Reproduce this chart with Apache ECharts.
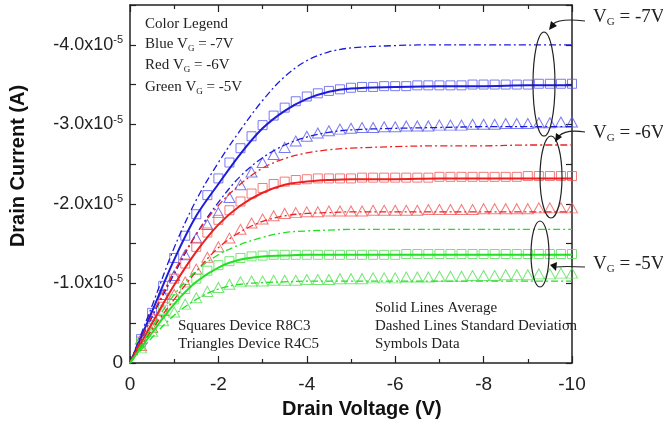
<!DOCTYPE html>
<html>
<head>
<meta charset="utf-8">
<script src="https://cdn.jsdelivr.net/npm/echarts/dist/echarts.min.js"></script>
<style>
  html, body { margin: 0; padding: 0; background: #fff; }
  #chart { width: 663px; height: 430px; }
</style>
</head>
<body>
<div id="chart"></div>
<script>
  // drain current values are in units of 1e-5 A
  const vLine = [0, -0.5, -1, -1.5, -2, -2.5, -3, -3.5, -4, -4.5, -5, -6, -7, -8, -9, -10];
  const blueAvg = [0, -0.65, -1.3, -1.85, -2.25, -2.63, -2.95, -3.17, -3.32, -3.41, -3.45, -3.47, -3.48, -3.48, -3.49, -3.49];
  const blueHi  = [0, -0.72, -1.45, -2.05, -2.52, -2.93, -3.3, -3.6, -3.8, -3.91, -3.96, -3.99, -4.0, -4.0, -4.0, -4.0];
  const blueLo  = [0, -0.58, -1.12, -1.62, -2.02, -2.35, -2.58, -2.74, -2.84, -2.9, -2.93, -2.95, -2.96, -2.97, -2.97, -2.97];
  const redHi   = [0, -0.6, -1.15, -1.62, -1.98, -2.25, -2.45, -2.57, -2.64, -2.68, -2.7, -2.72, -2.73, -2.73, -2.74, -2.74];
  const redAvg  = [0, -0.5, -0.98, -1.4, -1.74, -1.98, -2.14, -2.24, -2.28, -2.3, -2.31, -2.31, -2.32, -2.32, -2.32, -2.32];
  const redLo   = [0, -0.42, -0.8, -1.15, -1.45, -1.65, -1.78, -1.85, -1.88, -1.89, -1.9, -1.9, -1.9, -1.9, -1.9, -1.9];
  const greenHi  = [0, -0.45, -0.86, -1.16, -1.36, -1.49, -1.58, -1.64, -1.66, -1.67, -1.68, -1.68, -1.68, -1.68, -1.68, -1.68];
  const greenAvg = [0, -0.38, -0.74, -1.02, -1.2, -1.3, -1.34, -1.35, -1.36, -1.36, -1.36, -1.36, -1.36, -1.36, -1.36, -1.36];
  const greenLo  = [0, -0.32, -0.6, -0.8, -0.93, -0.99, -1.01, -1.02, -1.03, -1.03, -1.03, -1.03, -1.03, -1.03, -1.03, -1.03];

  const vData = [-0.25, -0.5, -0.75, -1, -1.25, -1.5, -1.75, -2, -2.25, -2.5, -2.75, -3, -3.25, -3.5, -3.75, -4,
    -4.25, -4.5, -4.75, -5, -5.25, -5.5, -5.75, -6, -6.25, -6.5, -6.75, -7, -7.25, -7.5, -7.75, -8,
    -8.25, -8.5, -8.75, -9, -9.25, -9.5, -9.75, -10];
  const blueSq = [-0.30, -0.63, -0.97, -1.32, -1.60, -1.87, -2.11, -2.32, -2.52, -2.70, -2.85, -2.99, -3.11, -3.21, -3.29, -3.35,
    -3.39, -3.42, -3.44, -3.46, -3.47, -3.47, -3.48, -3.48, -3.48, -3.49, -3.49, -3.49, -3.49, -3.49, -3.50, -3.50,
    -3.50, -3.50, -3.50, -3.50, -3.51, -3.51, -3.51, -3.51];
  const blueTri = [-0.30, -0.60, -0.86, -1.10, -1.36, -1.57, -1.74, -1.89, -2.08, -2.24, -2.40, -2.52, -2.62, -2.71, -2.79, -2.85,
    -2.89, -2.92, -2.94, -2.95, -2.96, -2.96, -2.97, -2.97, -2.98, -2.98, -2.98, -2.99, -2.99, -2.99, -3.00, -3.00,
    -3.00, -3.01, -3.01, -3.01, -3.02, -3.02, -3.03, -3.03];
  const redSq = [-0.27, -0.55, -0.82, -1.06, -1.25, -1.46, -1.64, -1.80, -1.92, -2.03, -2.13, -2.20, -2.25, -2.28, -2.30, -2.31,
    -2.32, -2.32, -2.32, -2.32, -2.33, -2.33, -2.33, -2.33, -2.33, -2.33, -2.33, -2.34, -2.34, -2.34, -2.34, -2.34,
    -2.34, -2.34, -2.34, -2.35, -2.35, -2.35, -2.35, -2.35];
  const redTri = [-0.22, -0.45, -0.66, -0.86, -1.02, -1.18, -1.33, -1.46, -1.57, -1.68, -1.76, -1.81, -1.85, -1.88, -1.89, -1.90,
    -1.90, -1.91, -1.91, -1.91, -1.91, -1.92, -1.92, -1.92, -1.92, -1.92, -1.93, -1.93, -1.93, -1.93, -1.93, -1.94,
    -1.94, -1.94, -1.94, -1.94, -1.95, -1.95, -1.95, -1.95];
  const greenSq = [-0.26, -0.47, -0.67, -0.80, -0.93, -1.06, -1.16, -1.23, -1.28, -1.32, -1.34, -1.35, -1.36, -1.36, -1.36, -1.36,
    -1.36, -1.36, -1.36, -1.36, -1.36, -1.36, -1.36, -1.36, -1.37, -1.37, -1.37, -1.37, -1.37, -1.37, -1.37, -1.37,
    -1.37, -1.37, -1.37, -1.37, -1.37, -1.37, -1.37, -1.37];
  const greenTri = [-0.19, -0.40, -0.53, -0.64, -0.74, -0.82, -0.90, -0.95, -0.99, -1.02, -1.03, -1.03, -1.04, -1.04, -1.04, -1.05,
    -1.05, -1.05, -1.06, -1.06, -1.06, -1.07, -1.07, -1.07, -1.08, -1.08, -1.08, -1.09, -1.09, -1.09, -1.10, -1.10,
    -1.10, -1.11, -1.11, -1.11, -1.12, -1.12, -1.13, -1.13];

  const BLUE = '#1c1cdc', RED = '#ee2020', GREEN = '#22e022';
  const BLUE_S = '#5a5aee', RED_S = '#f05a5a', GREEN_S = '#55e055';
  const dashDot = [7, 3, 2, 3];

  function pairs(xs, ys) {
    return xs.map((x, i) => [x, ys[i]]);
  }

  function line(name, ys, color, dashed) {
    return {
      name: name,
      type: 'line',
      data: pairs(vLine, ys),
      smooth: 0.35,
      showSymbol: false,
      symbol: 'none',
      silent: true,
      lineStyle: { color: color, width: dashed ? 1.3 : 2, type: dashed ? dashDot : 'solid' },
      z: 3
    };
  }

  function marks(name, ys, color, shape) {
    return {
      name: name,
      type: 'scatter',
      data: pairs(vData, ys),
      symbol: shape,
      symbolSize: shape === 'rect' ? 9 : [11, 10],
      itemStyle: { color: 'transparent', borderColor: color, borderWidth: 1 },
      z: 2
    };
  }

  const serif = 'Liberation Serif';
  const sans = 'Liberation Sans';

  function yLab(v) {
    if (Math.abs(v) < 1e-9) return '0';
    const r = Math.round(v * 2) / 2;
    if (r % 1 !== 0) return '';
    return '{n|' + r.toFixed(1) + 'x10}{sup|-5}';
  }

  function noteText(x, y, txt, size) {
    return {
      type: 'text', left: x, top: y, z: 100,
      style: {
        text: txt, fontFamily: serif, fontSize: size, fill: '#222',
        rich: { s: { fontSize: Math.round(size * 0.6), fontFamily: serif, fill: '#222', padding: [Math.round(size * 0.55), 0, 0, 0] } }
      }
    };
  }

  function ellipse(cx, cy, rx, ry) {
    return { type: 'ellipse', z: 100, shape: { cx: cx, cy: cy, rx: rx, ry: ry },
      style: { fill: 'none', stroke: '#222', lineWidth: 1.2 } };
  }

  function arrow(x1, y1, cx, cy, x2, y2, head) {
    return [
      { type: 'bezierCurve', z: 100, shape: { x1: x1, y1: y1, cpx1: cx, cpy1: cy, x2: x2, y2: y2 },
        style: { fill: 'none', stroke: '#222', lineWidth: 1.2 } },
      { type: 'polygon', z: 100, shape: { points: head }, style: { fill: '#111' } }
    ];
  }

  const baseX = {
    type: 'value', min: -10, max: 0, interval: 2, inverse: true,
    axisLine: { show: true, onZero: false, lineStyle: { color: '#222', width: 1.5 } },
    axisTick: { show: true, inside: true, length: 7, lineStyle: { color: '#222', width: 1.2 } },
    minorTick: { show: true, splitNumber: 2, length: 4, lineStyle: { color: '#222', width: 1.2 } },
    splitLine: { show: false }
  };
  const baseY = {
    type: 'value', min: -4.5, max: 0, interval: 0.5, inverse: true,
    axisLine: { show: true, onZero: false, lineStyle: { color: '#222', width: 1.5 } },
    axisTick: { show: true, inside: true, length: 6, lineStyle: { color: '#222', width: 1.2 } },
    splitLine: { show: false }
  };

  const chart = echarts.init(document.getElementById('chart'));
  chart.setOption({
    animation: false,
    backgroundColor: '#fff',
    grid: { left: 130, right: 91, top: 5, bottom: 67 },
    xAxis: [
      Object.assign({}, baseX, {
        position: 'bottom',
        axisLabel: { margin: 12, fontFamily: sans, fontSize: 19, color: '#222' }
      }),
      Object.assign({}, baseX, { position: 'top', axisLabel: { show: false } })
    ],
    yAxis: [
      Object.assign({}, baseY, {
        position: 'left',
        axisLabel: {
          margin: 7, fontFamily: sans, fontSize: 19, color: '#222', formatter: yLab,
          rich: {
            n: { fontFamily: sans, fontSize: 18, color: '#222', lineHeight: 22 },
            sup: { fontFamily: sans, fontSize: 11, color: '#222', lineHeight: 22, padding: [0, 0, 9, 0] }
          }
        }
      }),
      Object.assign({}, baseY, { position: 'right', axisLabel: { show: false } })
    ],
    series: [
      line('Blue upper', blueHi, BLUE, true),
      line('Blue average', blueAvg, BLUE, false),
      line('Blue lower', blueLo, BLUE, true),
      line('Red upper', redHi, RED, true),
      line('Red average', redAvg, RED, false),
      line('Red lower', redLo, RED, true),
      line('Green upper', greenHi, GREEN, true),
      line('Green average', greenAvg, GREEN, false),
      line('Green lower', greenLo, GREEN, true),
      marks('Blue R8C3', blueSq, BLUE_S, 'rect'),
      marks('Blue R4C5', blueTri, BLUE_S, 'triangle'),
      marks('Red R8C3', redSq, RED_S, 'rect'),
      marks('Red R4C5', redTri, RED_S, 'triangle'),
      marks('Green R8C3', greenSq, GREEN_S, 'rect'),
      marks('Green R4C5', greenTri, GREEN_S, 'triangle')
    ],
    graphic: [
      { type: 'text', left: 282, top: 399, z: 100,
        style: { text: 'Drain Voltage (V)', fontFamily: sans, fontSize: 20, fontWeight: 'bold', fill: '#111' } },
      { type: 'text', x: 18, y: 166, rotation: Math.PI / 2, z: 100,
        style: { text: 'Drain Current (A)', fontFamily: sans, fontSize: 20, fontWeight: 'bold', fill: '#111',
          align: 'center', verticalAlign: 'middle' } },

      noteText(145, 17, 'Color Legend', 15),
      noteText(145, 37, 'Blue V{s|G} = -7V', 15),
      noteText(145, 58, 'Red V{s|G} = -6V', 15),
      noteText(145, 80, 'Green V{s|G} = -5V', 15),

      noteText(178, 319, 'Squares Device R8C3', 15),
      noteText(178, 337, 'Triangles Device R4C5', 15),

      noteText(375, 301, 'Solid Lines Average', 15),
      noteText(375, 319, 'Dashed Lines Standard Deviation', 15),
      noteText(375, 337, 'Symbols Data', 15),

      noteText(593, 8, 'V{s|G} = -7V', 19),
      noteText(593, 124, 'V{s|G} = -6V', 19),
      noteText(593, 255, 'V{s|G} = -5V', 19),

      ellipse(544, 84, 11, 52),
      ellipse(551, 177, 11, 41),
      ellipse(540, 254, 9, 33),

      ...arrow(585, 21, 560, 18, 553, 24, [[549, 30], [551, 21], [557, 26]]),
      ...arrow(585, 132, 566, 129, 559, 136, [[555, 142], [556, 133], [562, 137]]),
      ...arrow(585, 267, 565, 266, 556, 267, [[550, 265], [557, 262], [556, 271]])
    ]
  });
</script>
</body>
</html>
